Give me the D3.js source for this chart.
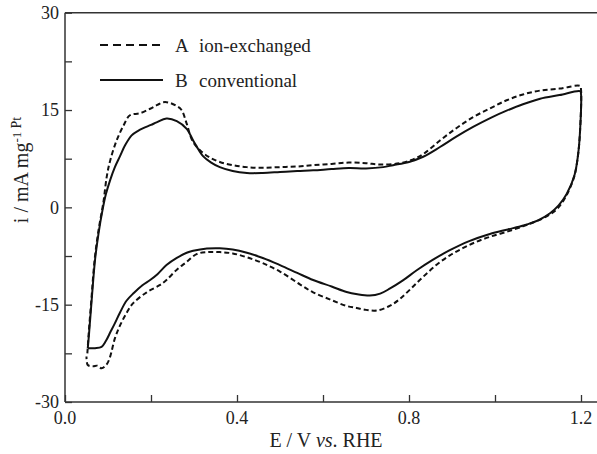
<!DOCTYPE html>
<html>
<head>
<meta charset="utf-8">
<script src="https://cdn.jsdelivr.net/npm/d3@7"></script>
<style>
  body { margin: 0; background: #fff; }
  svg text { font-family: "Liberation Serif", "Times New Roman", serif; fill: #222; }
</style>
</head>
<body>
<svg id="cv-chart" width="597" height="454"></svg>
<script>
// curve A, ion-exchanged (dashed): anodic sweep then cathodic sweep
const potentialA = [0.052, 0.055, 0.061, 0.069, 0.078, 0.086, 0.09, 0.097, 0.105, 0.12, 0.136, 0.151, 0.174, 0.198, 0.215, 0.229, 0.244, 0.26, 0.271, 0.283, 0.296, 0.314, 0.336, 0.36, 0.39, 0.423, 0.46, 0.5, 0.54, 0.577, 0.62, 0.66, 0.7, 0.733, 0.779, 0.81, 0.833, 0.872, 0.91, 0.949, 0.99, 1.027, 1.065, 1.105, 1.15, 1.198,
  1.2, 1.198, 1.193, 1.184, 1.165, 1.145, 1.12, 1.09, 1.066, 1.03, 0.99, 0.957, 0.925, 0.895, 0.865, 0.833, 0.805, 0.779, 0.755, 0.725, 0.7, 0.678, 0.655, 0.62, 0.577, 0.547, 0.5, 0.46, 0.423, 0.39, 0.36, 0.33, 0.306, 0.283, 0.26, 0.236, 0.22, 0.19, 0.158, 0.143, 0.128, 0.116, 0.105, 0.097, 0.085, 0.075, 0.065, 0.053, 0.05];
const currentA = [-22.5, -19.5, -14.5, -8, -3.5, -0.5, 1.1, 4.7, 7.2, 10.3, 12.6, 14.2, 14.5, 15.2, 15.8, 16.2, 16.1, 15.6, 15.0, 12.9, 10.3, 8.8, 7.7, 7.0, 6.5, 6.2, 6.1, 6.2, 6.3, 6.5, 6.7, 6.9, 6.8, 6.6, 6.8, 7.4, 8.2, 10.3, 12.2, 13.9, 15.3, 16.5, 17.4, 18.0, 18.3, 18.7,
  18.2, 12, 8, 4.7, 1.7, -0.2, -1.4, -2.3, -2.9, -3.7, -4.5, -5.3, -6.3, -7.4, -8.8, -10.7, -12.5, -14.1, -15.2, -15.9, -15.8, -15.5, -15.2, -14.3, -13.1, -11.9, -9.9, -8.6, -7.7, -7.1, -6.9, -6.9, -7.2, -8.4, -9.6, -11.2, -12.0, -13.1, -14.8, -16.3, -18.2, -20.2, -23.0, -24.2, -24.8, -24.4, -24.5, -24.3, -23.0];

// curve B, conventional (solid)
const potentialB = [0.053, 0.056, 0.062, 0.07, 0.078, 0.087, 0.095, 0.105, 0.116, 0.128, 0.14, 0.155, 0.17, 0.182, 0.2, 0.213, 0.236, 0.26, 0.283, 0.298, 0.306, 0.321, 0.34, 0.36, 0.39, 0.423, 0.46, 0.5, 0.54, 0.577, 0.62, 0.66, 0.7, 0.74, 0.763, 0.8, 0.833, 0.872, 0.91, 0.949, 0.99, 1.027, 1.065, 1.105, 1.15, 1.198,
  1.2, 1.198, 1.193, 1.185, 1.167, 1.148, 1.128, 1.1, 1.066, 1.03, 0.988, 0.94, 0.895, 0.855, 0.818, 0.785, 0.756, 0.733, 0.709, 0.68, 0.655, 0.62, 0.577, 0.54, 0.5, 0.46, 0.423, 0.39, 0.36, 0.33, 0.298, 0.283, 0.26, 0.236, 0.215, 0.198, 0.18, 0.16, 0.143, 0.128, 0.115, 0.105, 0.095, 0.085, 0.07, 0.053];
const currentB = [-21.7, -19.4, -14.3, -8, -4, -0.5, 2, 4.2, 6.2, 7.9, 9.6, 11.1, 11.8, 12.2, 12.7, 13.1, 13.7, 13.3, 12.1, 10.3, 9.4, 7.9, 6.9, 6.2, 5.6, 5.3, 5.3, 5.45, 5.6, 5.7, 5.9, 6.05, 6.0, 6.2, 6.5, 7.0, 7.8, 9.3, 10.9, 12.4, 13.8, 14.9, 15.9, 16.75, 17.3, 17.9,
  17.5, 12, 8, 5, 2.1, 0.3, -0.9, -2.0, -2.8, -3.4, -4.1, -5.2, -6.6, -8.1, -9.7, -11.3, -12.5, -13.3, -13.6, -13.4, -13.05, -12.2, -11.2, -10.1, -8.9, -7.8, -7.0, -6.5, -6.3, -6.35, -6.7, -7.0, -7.8, -8.9, -10.3, -11.2, -12.0, -13.2, -14.4, -16.2, -18.0, -19.3, -20.6, -21.5, -21.7, -21.7];

const xTicks = [0.0, 0.4, 0.8, 1.2];
const xMinorTicks = [0.2, 0.6, 1.0];
const yTicks = [-30, -15, 0, 15, 30];
const yMinorTicks = [-22.5, -7.5, 7.5, 22.5];
const legendLabels = ['A', 'B'];
const legendNames = ['ion-exchanged', 'conventional'];

const svg = d3.select('#cv-chart');
const plotLeft = 65;
const plotRight = 597;
const plotTop = 12.7;
const plotBottom = 402;

const x = d3.scaleLinear().domain([0, 1.2]).range([plotLeft, 581]);
const y = d3.scaleLinear().domain([-30, 30]).range([plotBottom, plotTop]);

const axisColor = '#333';

// frame: top, left and bottom lines (no right side)
svg.append('line')
  .attr('x1', plotLeft).attr('x2', plotRight).attr('y1', plotTop).attr('y2', plotTop)
  .attr('stroke', axisColor).attr('stroke-width', 1.5);

// x axis, ticks pointing inward
const gx = svg.append('g')
  .attr('transform', `translate(0,${plotBottom})`)
  .call(d3.axisTop(x).tickValues(xTicks.concat(xMinorTicks)).tickSize(7).tickFormat(''));
gx.select('.domain').remove();
gx.selectAll('line').attr('stroke', axisColor).attr('stroke-width', 1.3);
svg.append('line')
  .attr('x1', plotLeft).attr('x2', plotRight).attr('y1', plotBottom).attr('y2', plotBottom)
  .attr('stroke', axisColor).attr('stroke-width', 1.5);

svg.append('g')
  .selectAll('text')
  .data(xTicks)
  .join('text')
  .attr('x', d => x(d))
  .attr('y', 424)
  .attr('text-anchor', 'middle')
  .attr('font-size', 18)
  .text(d => d3.format('.1f')(d));

// y axis
const gy = svg.append('g')
  .attr('transform', `translate(${plotLeft},0)`)
  .call(d3.axisRight(y).tickValues(yTicks.concat(yMinorTicks)).tickSize(7).tickFormat(''));
gy.select('.domain').remove();
gy.selectAll('line').attr('stroke', axisColor).attr('stroke-width', 1.3);
svg.append('line')
  .attr('x1', plotLeft).attr('x2', plotLeft).attr('y1', plotTop).attr('y2', plotBottom)
  .attr('stroke', axisColor).attr('stroke-width', 1.5);

svg.append('g')
  .selectAll('text')
  .data(yTicks)
  .join('text')
  .attr('x', 59)
  .attr('y', d => y(d))
  .attr('dy', '0.35em')
  .attr('text-anchor', 'end')
  .attr('font-size', 18)
  .text(d => d);

// axis titles
const xTitle = svg.append('text')
  .attr('x', 326)
  .attr('y', 447)
  .attr('text-anchor', 'middle')
  .attr('font-size', 20);
xTitle.append('tspan').text('E / V ');
xTitle.append('tspan').attr('font-style', 'italic').text('vs');
xTitle.append('tspan').text('. RHE');

const yTitle = svg.append('text')
  .attr('transform', 'translate(28,170) rotate(-90)')
  .attr('text-anchor', 'middle')
  .attr('font-size', 20);
yTitle.append('tspan').text('i / mA mg');
yTitle.append('tspan').attr('font-size', 13).attr('dy', -7).text('-1 ');
yTitle.append('tspan').attr('font-size', 14).text('Pt');

// the two voltammograms
const line = d3.line()
  .x(d => x(d[0]))
  .y(d => y(d[1]))
  .curve(d3.curveCatmullRom.alpha(0.5));

const seriesA = potentialA.map((e, k) => [e, currentA[k]]);
const seriesB = potentialB.map((e, k) => [e, currentB[k]]);

svg.append('path')
  .attr('d', line(seriesB))
  .attr('fill', 'none')
  .attr('stroke', '#111')
  .attr('stroke-width', 2);

svg.append('path')
  .attr('d', line(seriesA))
  .attr('fill', 'none')
  .attr('stroke', '#111')
  .attr('stroke-width', 2)
  .attr('stroke-dasharray', '5,3');

// legend
const legendY = [45, 80];
const legend = svg.append('g')
  .selectAll('g')
  .data(legendLabels)
  .join('g')
  .attr('transform', (d, k) => `translate(0,${legendY[k]})`);

legend.append('line')
  .attr('x1', 100).attr('x2', 163)
  .attr('stroke', '#111')
  .attr('stroke-width', 2)
  .attr('stroke-dasharray', (d, k) => (k === 0 ? '8,5' : null));

legend.append('text')
  .attr('x', 175)
  .attr('y', 7)
  .attr('font-size', 19)
  .text(d => d);

legend.append('text')
  .attr('x', 199)
  .attr('y', 7)
  .attr('font-size', 19)
  .text((d, k) => legendNames[k]);
</script>
</body>
</html>
